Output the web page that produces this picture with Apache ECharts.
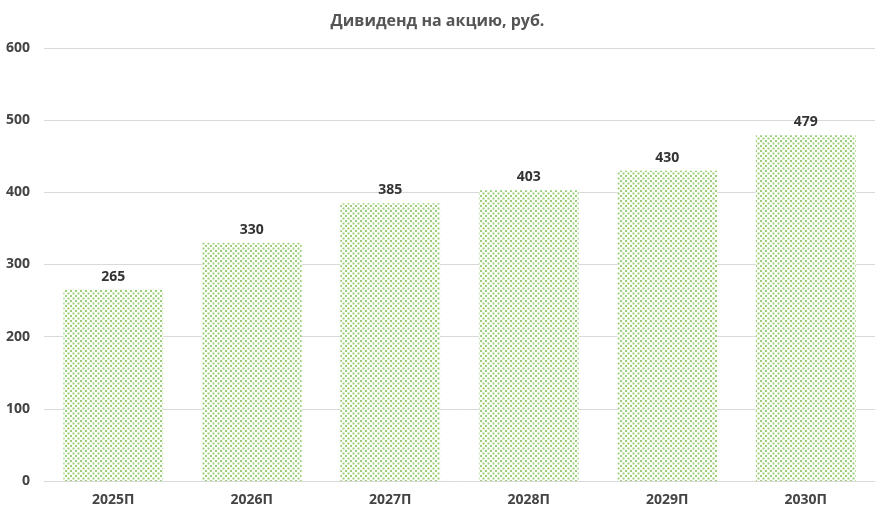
<!DOCTYPE html><html><head><meta charset="utf-8"><script src="https://cdn.jsdelivr.net/npm/echarts@6/dist/echarts.min.js"></script></head><body style="margin:0"><div id="c" style="width:875px;height:518px"></div><script>
const categories=['2025П','2026П','2027П','2028П','2029П','2030П'];
const values=[265,330,385,403,430,479];
const cv=document.createElement('canvas');cv.width=5;cv.height=5;
const g=cv.getContext('2d');g.fillStyle='#fff';g.fillRect(0,0,5,5);g.fillStyle='#9ccd78';
g.fillRect(0,0,2,2);g.fillRect(2.5,2.5,2,2);
const ch=echarts.init(document.getElementById('c'));
ch.setOption({
title:{text:'Дивиденд на акцию, руб.',left:'center',top:8,textStyle:{fontFamily:'Open Sans',fontSize:16,fontWeight:'bold',color:'#555'}},
grid:{left:44,right:0,top:48,bottom:37},
xAxis:{type:'category',data:categories,axisTick:{show:false},axisLine:{lineStyle:{color:'#d9d9d9'}},axisLabel:{color:'#444',fontWeight:'bold',fontSize:14,fontFamily:'Open Sans',margin:12}},
yAxis:{type:'value',min:0,max:600,interval:100,axisLabel:{color:'#444',fontWeight:'bold',fontSize:14,fontFamily:'Open Sans',margin:14},splitLine:{lineStyle:{color:'#d9d9d9'}}},
series:[{type:'bar',data:values,barWidth:'72%',itemStyle:{color:{image:cv,repeat:'repeat'}},label:{show:true,position:'top',color:'#333',fontWeight:'bold',fontSize:14,fontFamily:'Open Sans',distance:6}}]
});
</script></body></html>
